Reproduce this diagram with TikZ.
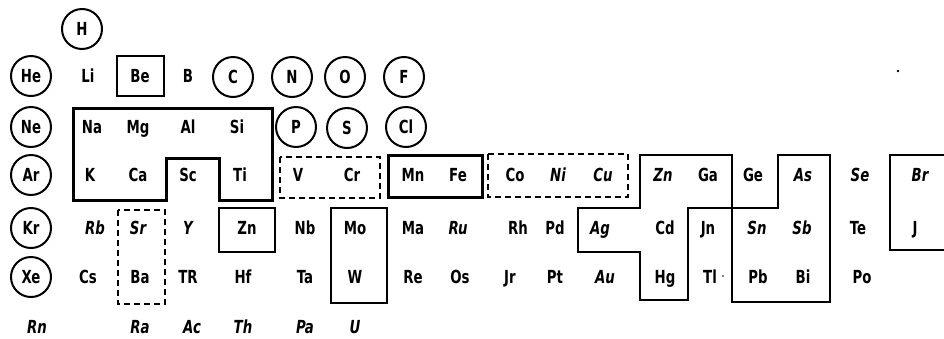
\documentclass[tikz,border=0pt]{standalone}
\usepackage{fontspec}
\setmainfont{DejaVu Sans}[FakeStretch=0.74]
\begin{document}
\begin{tikzpicture}[x=1pt,y=-1pt,
  el/.style={inner sep=0pt, text height=13pt, text depth=0pt, font=\fontsize{18}{18}\selectfont\bfseries},
  sl/.style={el, font=\fontsize{18}{18}\selectfont\bfseries\itshape},
  ring/.style={el, circle, draw, line width=2pt, minimum size=40pt},
  thinbox/.style={line width=1.5pt},
  medbox/.style={line width=2pt},
  thickbox/.style={line width=3pt},
  dashbox/.style={line width=1.6pt, dash pattern=on 6pt off 4pt}]
\useasboundingbox (0,0) rectangle (944,338);
% row 0
\node[ring] (H) at (82,29) {H};
% row 1
\node[ring] (He) at (31,76) {He};
\node[el] (Li) at (88,76) {Li};
\node[el] (Be) at (140,76) {Be};
\node[el] (B) at (188,76) {B};
\node[ring] (C) at (233,77) {C};
\node[ring] (N) at (292,77) {N};
\node[ring] (O) at (345,77) {O};
\node[ring] (F) at (404,77) {F};
% row 2
\node[ring] (Ne) at (31,127) {Ne};
\node[el] (Na) at (92,127) {Na};
\node[el] (Mg) at (138,127) {Mg};
\node[el] (Al) at (188,127) {Al};
\node[el] (Si) at (237,127) {Si};
\node[ring] (P) at (296,127) {P};
\node[ring] (S) at (347,128) {S};
\node[ring] (Cl) at (406,127) {Cl};
% row 3
\node[ring] (Ar) at (31,175) {Ar};
\node[el] (K) at (90,175) {K};
\node[el] (Ca) at (138,175) {Ca};
\node[el] (Sc) at (188,175) {Sc};
\node[el] (Ti) at (240,175) {Ti};
\node[el] (V) at (298,175) {V};
\node[el] (Cr) at (352,175) {Cr};
\node[el] (Mn) at (413,175) {Mn};
\node[el] (Fe) at (458,175) {Fe};
\node[el] (Co) at (515,175) {Co};
\node[sl] (Ni) at (558,175) {Ni};
\node[sl] (Cu) at (603,175) {Cu};
\node[sl] (Zn) at (663,175) {Zn};
\node[el] (Ga) at (708,175) {Ga};
\node[el] (Ge) at (753,175) {Ge};
\node[sl] (As) at (803,175) {As};
\node[sl] (Se) at (860,175) {Se};
\node[sl] (Br) at (920,175) {Br};
% row 4
\node[ring] (Kr) at (31,228) {Kr};
\node[sl] (Rb) at (95,228) {Rb};
\node[sl] (Sr) at (138,228) {Sr};
\node[sl] (Y) at (188,228) {Y};
\node[el] (Zr) at (247,228) {Zn};
\node[el] (Nb) at (305,228) {Nb};
\node[el] (Mo) at (355,228) {Mo};
\node[el] (Ma) at (413,228) {Ma};
\node[sl] (Ru) at (458,228) {Ru};
\node[el] (Rh) at (518,228) {Rh};
\node[el] (Pd) at (555,228) {Pd};
\node[sl] (Ag) at (600,228) {Ag};
\node[el] (Cd) at (665,228) {Cd};
\node[el] (In) at (708,228) {Jn};
\node[sl] (Sn) at (757,228) {Sn};
\node[sl] (Sb) at (802,228) {Sb};
\node[el] (Te) at (858,228) {Te};
\node[el] (I) at (915,228) {J};
% row 5
\node[ring] (Xe) at (31,277) {Xe};
\node[el] (Cs) at (88,277) {Cs};
\node[el] (Ba) at (140,277) {Ba};
\node[el] (TR) at (188,277) {TR};
\node[el] (Hf) at (243,277) {Hf};
\node[el] (Ta) at (305,277) {Ta};
\node[el] (W) at (355,277) {W};
\node[el] (Re) at (413,277) {Re};
\node[el] (Os) at (460,277) {Os};
\node[el] (Ir) at (510,277) {Jr};
\node[el] (Pt) at (555,277) {Pt};
\node[sl] (Au) at (605,277) {Au};
\node[el] (Hg) at (665,277) {Hg};
\node[el] (Tl) at (710,277) {Tl};
\node[el] (Pb) at (758,277) {Pb};
\node[el] (Bi) at (803,277) {Bi};
\node[el] (Po) at (862,277) {Po};
% row 6
\node[sl] (Rn) at (37,327) {Rn};
\node[sl] (Ra) at (140,327) {Ra};
\node[sl] (Ac) at (192,327) {Ac};
\node[sl] (Th) at (243,327) {Th};
\node[sl] (Pa) at (305,327) {Pa};
\node[sl] (U) at (355,327) {U};
% boxes
\draw[thinbox] (117,56) rectangle (164,96);
\draw[thickbox] (73,108) -- (272,108) -- (272,200) -- (219,200) -- (219,158)
  -- (166,158) -- (166,200) -- (73,200) -- cycle;
\draw[dashbox] (280,157) rectangle (380,198);
\draw[thickbox] (388,155) rectangle (482,197);
\draw[dashbox] (488,154) rectangle (628,197);
\draw[medbox] (640,155) -- (732,155) -- (732,208) -- (688,208) -- (688,300)
  -- (640,300) -- (640,252) -- (578,252) -- (578,208) -- (640,208) -- cycle;
\draw[medbox] (732,208) -- (778,208) -- (778,155) -- (830,155) -- (830,302)
  -- (732,302) -- cycle;
\draw[medbox] (944,155) -- (890,155) -- (890,250) -- (944,250);
\draw[thinbox] (219,208) rectangle (275,252);
\draw[dashbox] (118,210) rectangle (165,304);
\draw[thinbox] (331,208) rectangle (387,303);
% specks
\fill (898,71) circle[radius=1.3];
\fill (723,276) circle[radius=0.8];
\end{tikzpicture}
\end{document}
